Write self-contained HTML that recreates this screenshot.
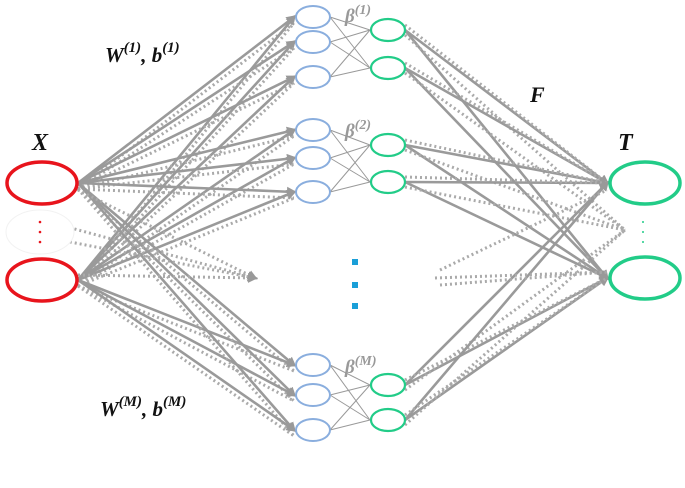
<!DOCTYPE html>
<html><head><style>body{margin:0;background:#fff}svg{display:block}</style></head>
<body>
<svg id="s" width="685" height="488" xmlns="http://www.w3.org/2000/svg">
<defs>
<marker id="b" markerWidth="10" markerHeight="10" refX="7" refY="5" orient="auto" markerUnits="userSpaceOnUse"><path d="M0,0 L10,5 L0,10 z" fill="#999"/></marker>
</defs>
<g id="lines"></g>
<g id="nodes"></g>
<g font-family="Liberation Serif, serif" font-style="italic" font-weight="bold" fill="#111">
<text x="32" y="150" font-size="24">X</text>
<text x="618" y="150" font-size="24">T</text>
<text x="530" y="102" font-size="22">F</text>
<text x="105" y="62" font-size="21">W<tspan font-size="15" dy="-10">(1)</tspan><tspan dy="10">, b</tspan><tspan font-size="15" dy="-10">(1)</tspan></text>
<text x="100" y="416" font-size="21">W<tspan font-size="15" dy="-10">(M)</tspan><tspan dy="10">, b</tspan><tspan font-size="15" dy="-10">(M)</tspan></text>
</g>
<g font-family="Liberation Serif, serif" font-style="italic" font-weight="bold" fill="#999">
<text x="345" y="22" font-size="19">β<tspan font-size="14" dy="-8">(1)</tspan></text>
<text x="345" y="137" font-size="19">β<tspan font-size="14" dy="-8">(2)</tspan></text>
<text x="345" y="373" font-size="19">β<tspan font-size="14" dy="-8">(M)</tspan></text>
</g>
</svg>
<script>
const NS="http://www.w3.org/2000/svg";
const L=document.getElementById('lines'),N=document.getElementById('nodes');
function el(p,t,a){const e=document.createElementNS(NS,t);for(const k in a)e.setAttribute(k,a[k]);p.appendChild(e);return e;}
function line(x1,y1,x2,y2,w,dash,c,m){const a={x1,y1,x2,y2,stroke:c||'#999','stroke-width':w};if(dash)a['stroke-dasharray']=dash;if(m)a['marker-end']='url(#'+m+')';el(L,'line',a);}
const groups=[{b:[17,42,77],g:[30,68]},{b:[130,158,192],g:[145,182]},{b:[365,395,430],g:[385,420]}];
const X=[183,280],T=[183,278];
groups.forEach(G=>{G.b.forEach(by=>{X.forEach(xy=>{line(78,xy,294,by,2.6,null,'#9a9a9a','b');line(78,xy+6,294,by+6,3,'2,3','#aaa');});
 G.g.forEach(gy=>line(330,by,370,gy,1,null,'#999'));});
 G.g.forEach(gy=>{T.forEach(ty=>line(405,gy,607,ty,2.6,null,'#9a9a9a','b'));line(405,gy+5,625,230,3,'2,3','#aaa');line(405,gy-5,607,gy<200?183:278,3,'2,3','#aaa');});});
[[60,225],[60,240],[78,190],[78,275]].forEach(p=>line(p[0],p[1],255,278,3,'2,3','#aaa','b'));
[[435,278],[440,270],[440,285]].forEach(p=>line(p[0],p[1],607,p[1]<278?190:272,3,'2,3','#aaa'));
X.forEach(y=>el(N,'ellipse',{cx:42,cy:y,rx:35,ry:21,fill:'#fff',stroke:'#e8141c','stroke-width':3.5}));
el(N,'ellipse',{cx:40,cy:232,rx:34,ry:22,fill:'#fff',stroke:'#f2f2f2','stroke-width':1});
[222,232,242].forEach(y=>el(N,'circle',{cx:40,cy:y,r:1.3,fill:'#e8141c'}));
T.forEach(y=>el(N,'ellipse',{cx:645,cy:y,rx:35,ry:21,fill:'#fff',stroke:'#22cc88','stroke-width':3.5}));
[222,232,242].forEach(y=>el(N,'circle',{cx:643,cy:y,r:1,fill:'#22cc88'}));
groups.forEach(G=>{G.b.forEach(y=>el(N,'ellipse',{cx:313,cy:y,rx:17,ry:11,fill:'#fff',stroke:'#8aaede','stroke-width':2}));
 G.g.forEach(y=>el(N,'ellipse',{cx:388,cy:y,rx:17,ry:11,fill:'#fff',stroke:'#22cc88','stroke-width':2.2}));});
[262,285,306].forEach(y=>el(N,'rect',{x:352,y:y-3,width:6,height:6,fill:'#1a9fd8'}));
</script>
</body></html>
